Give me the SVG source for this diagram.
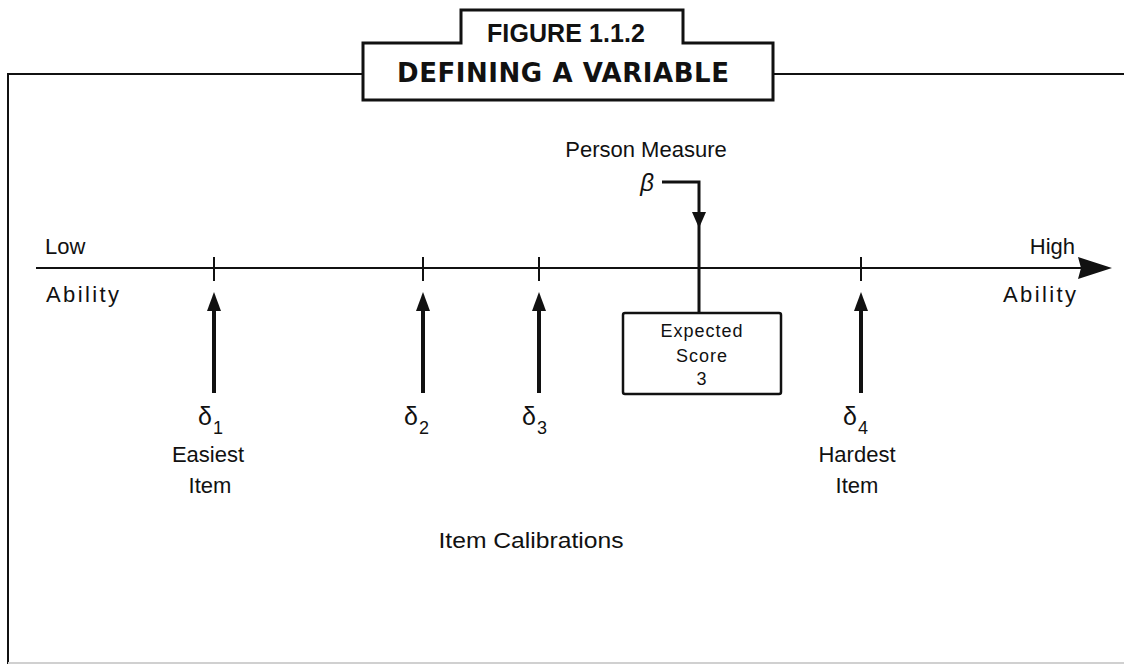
<svg xmlns="http://www.w3.org/2000/svg" width="1124" height="669" viewBox="0 0 1124 669">
<defs>
<style>
text{font-family:"Liberation Sans","Arial",sans-serif;fill:#111;}
.lbl{font-size:22px;}
.sm{font-size:18px;letter-spacing:1px;}
.dl{font-size:25px;}
.sub{font-size:18px;}
.frame{fill:none;stroke:#111;stroke-width:2;}
.tick{stroke:#111;stroke-width:2;}
.shaft{stroke:#111;stroke-width:4;fill:none;}
</style>
<marker id="upHead" markerUnits="userSpaceOnUse" markerWidth="20" markerHeight="14" viewBox="0 0 20 14" refX="10" refY="7" orient="auto">
<path d="M0,0 L19,7 L0,14 Z" fill="#111"/>
</marker>
<marker id="axisHead" markerUnits="userSpaceOnUse" markerWidth="36" markerHeight="22" viewBox="0 0 36 22" refX="12" refY="11" orient="auto">
<path d="M0,0 L34,11 L0,22 L3,11 Z" fill="#111"/>
</marker>
</defs>
<rect width="1124" height="669" fill="#fff"/>

<g id="frame">
<path class="frame" d="M363,74 H8 V664"/>
<line x1="773" y1="74" x2="1124" y2="74" stroke="#111" stroke-width="2"/>
<line x1="8" y1="663" x2="1124" y2="663" stroke="#d0d0d0" stroke-width="2"/>
</g>

<g id="title">
<path d="M363,100 V43 H461 V10 H683 V43 H773 V100 Z" fill="#fff" stroke="#111" stroke-width="3"/>
<text x="566" y="42" text-anchor="middle" font-size="25" font-weight="bold" textLength="158" lengthAdjust="spacing">FIGURE 1.1.2</text>
<text x="563" y="82" text-anchor="middle" font-size="26" font-weight="bold" style="font-family:'DejaVu Sans',sans-serif" textLength="332" lengthAdjust="spacing">DEFINING A VARIABLE</text>
</g>

<g id="axis">
<text class="lbl" x="45" y="254">Low</text>
<text class="lbl" x="46" y="302" textLength="73" lengthAdjust="spacing">Ability</text>
<text class="lbl" x="1075" y="254" text-anchor="end">High</text>
<text class="lbl" x="1003" y="302" textLength="73" lengthAdjust="spacing">Ability</text>
<line class="tick" x1="214" y1="257" x2="214" y2="281"/>
<line class="tick" x1="423" y1="257" x2="423" y2="281"/>
<line class="tick" x1="539" y1="257" x2="539" y2="281"/>
<line class="tick" x1="861" y1="257" x2="861" y2="281"/>
</g>

<g id="connectors">
<line x1="36" y1="268" x2="1090" y2="268" stroke="#111" stroke-width="2" marker-end="url(#axisHead)"/>
<line class="shaft" x1="214" y1="393" x2="214" y2="301" marker-end="url(#upHead)"/>
<line class="shaft" x1="423" y1="393" x2="423" y2="301" marker-end="url(#upHead)"/>
<line class="shaft" x1="539" y1="393" x2="539" y2="301" marker-end="url(#upHead)"/>
<line class="shaft" x1="861" y1="393" x2="861" y2="301" marker-end="url(#upHead)"/>
<path d="M662,182 H699 V313" fill="none" stroke="#111" stroke-width="3"/>
<path d="M692,212 L706,212 L699,228 Z" fill="#111"/>
</g>

<g id="item1">
<text class="dl" x="198" y="425">δ</text>
<text class="sub" x="213" y="434">1</text>
<text class="lbl" x="208" y="462" text-anchor="middle">Easiest</text>
<text class="lbl" x="210" y="493" text-anchor="middle">Item</text>
</g>

<g id="item2">
<text class="dl" x="404" y="425">δ</text>
<text class="sub" x="419" y="434">2</text>
</g>

<g id="item3">
<text class="dl" x="522" y="425">δ</text>
<text class="sub" x="537" y="434">3</text>
</g>

<g id="item4">
<text class="dl" x="843" y="425">δ</text>
<text class="sub" x="858" y="434">4</text>
<text class="lbl" x="857" y="462" text-anchor="middle">Hardest</text>
<text class="lbl" x="857" y="493" text-anchor="middle">Item</text>
</g>

<g id="calibrations">
<text class="lbl" x="531" y="548" text-anchor="middle" textLength="185" lengthAdjust="spacingAndGlyphs">Item Calibrations</text>
</g>

<g id="person">
<text class="lbl" x="646" y="157" text-anchor="middle">Person Measure</text>
<text x="647" y="191" text-anchor="middle" font-size="24" font-style="italic">β</text>
</g>

<g id="expected">
<rect x="623" y="313" width="158" height="81" rx="2" fill="#fff" stroke="#111" stroke-width="2.5"/>
<text class="sm" x="702" y="337" text-anchor="middle">Expected</text>
<text class="sm" x="702" y="362" text-anchor="middle">Score</text>
<text class="sm" x="702" y="385" text-anchor="middle">3</text>
</g>
</svg>
